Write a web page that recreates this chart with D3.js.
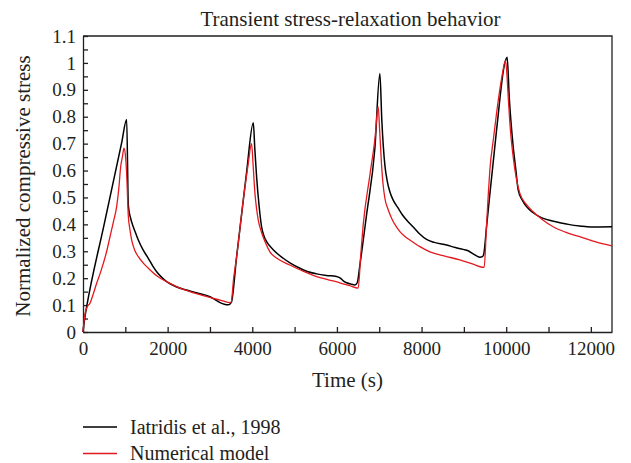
<!DOCTYPE html>
<html lang="en">
<head>
<meta charset="utf-8">
<title>Transient stress-relaxation behavior</title>
<script src="https://cdnjs.cloudflare.com/ajax/libs/d3/7.8.5/d3.min.js"></script>
<style>
  html, body {
    margin: 0;
    padding: 0;
    background: #ffffff;
  }
  svg text {
    font-family: "Liberation Serif", "DejaVu Serif", serif;
    fill: #231f20;
  }
</style>
</head>
<body>
<div id="chart"></div>
<script>
////////////////////////////////////////////////////////////////
// Data
////////////////////////////////////////////////////////////////

// Iatridis et al., 1998 (experiment, black)
const expTime = [0, 40, 87, 500, 913, 1032,
  1071, 1130, 1190, 1250, 1307, 1420, 1543, 1650, 1750, 1860, 1976, 2200, 2450, 2700, 3000,
  3120, 3240, 3340, 3430, 3480, 3510,
  3630, 3750, 3870, 4024,
  4060, 4102, 4160, 4220, 4280, 4338, 4500, 4731, 4900, 5125, 5300, 5519, 5750, 5990,
  6080, 6150, 6230, 6330, 6425, 6480,
  6543, 6700, 6897, 7015,
  7060, 7133, 7190, 7251, 7330, 7448, 7550, 7646, 7803, 7950, 8118, 8300, 8591, 8800, 8984,
  9100, 9220, 9300, 9377, 9440, 9470,
  9535, 9772, 9968, 10023,
  10071, 10165, 10230, 10283, 10380, 10480, 10620, 10795, 11000, 11267, 11500, 11739, 12000, 12500];
const expStress = [0, 0.05, 0.094, 0.40, 0.703, 0.79,
  0.47, 0.42, 0.39, 0.365, 0.342, 0.305, 0.274, 0.245, 0.222, 0.203, 0.187, 0.168, 0.156, 0.145, 0.131,
  0.12, 0.109, 0.103, 0.101, 0.105, 0.112,
  0.28, 0.44, 0.6, 0.778,
  0.68, 0.577, 0.47, 0.391, 0.355, 0.336, 0.305, 0.274, 0.256, 0.237, 0.225, 0.216, 0.21, 0.206,
  0.2, 0.19, 0.183, 0.178, 0.175, 0.183,
  0.249, 0.435, 0.683, 0.961,
  0.79, 0.62, 0.56, 0.521, 0.49, 0.46, 0.435, 0.416, 0.39, 0.365, 0.344, 0.333, 0.323, 0.314, 0.307,
  0.302, 0.29, 0.283, 0.278, 0.28, 0.29,
  0.39, 0.75, 1.0, 1.021,
  0.875, 0.689, 0.6, 0.528, 0.49, 0.466, 0.445, 0.428, 0.416, 0.406, 0.399, 0.394, 0.39, 0.391];

// Numerical model (red)
const modelTime = [0, 40, 100, 165, 240, 323, 400, 480, 560, 638, 720, 795, 850, 890, 930, 968,
  1000, 1031, 1071, 1110, 1149, 1220, 1307, 1420, 1543, 1750, 1976, 2250, 2527, 2800, 3079, 3280, 3472, 3500,
  3560, 3630, 3787, 3900, 3984,
  4020, 4063, 4100, 4141, 4220, 4299, 4417, 4600, 4889, 5200, 5519, 5800, 6071, 6300, 6503,
  6560, 6621, 6779, 6900, 6975,
  7010, 7055, 7090, 7133, 7210, 7291, 7388, 7488, 7600, 7724, 7950, 8197, 8550, 8905, 9200, 9480,
  9530, 9580, 9614, 9700, 9772, 9900, 9984,
  10020, 10047, 10100, 10165, 10240, 10323, 10470, 10638, 10850, 11110, 11400, 11739, 12100, 12500];
const modelStress = [0, 0.06, 0.094, 0.107, 0.14, 0.181, 0.215, 0.255, 0.3, 0.354, 0.41, 0.466, 0.54, 0.614, 0.65, 0.683,
  0.66, 0.59, 0.43, 0.38, 0.342, 0.305, 0.28, 0.257, 0.237, 0.208, 0.187, 0.166, 0.15, 0.137, 0.125, 0.117, 0.109, 0.11,
  0.2, 0.28, 0.49, 0.62, 0.70,
  0.62, 0.515, 0.46, 0.416, 0.37, 0.336, 0.298, 0.272, 0.249, 0.226, 0.206, 0.194, 0.183, 0.172, 0.163,
  0.28, 0.398, 0.583, 0.72, 0.837,
  0.75, 0.62, 0.55, 0.497, 0.455, 0.423, 0.395, 0.373, 0.356, 0.342, 0.318, 0.298, 0.282, 0.268, 0.253, 0.24,
  0.38, 0.52, 0.602, 0.72, 0.813, 0.95, 1.008,
  0.95, 0.875, 0.75, 0.651, 0.57, 0.515, 0.475, 0.447, 0.418, 0.391, 0.371, 0.354, 0.336, 0.32];

// ticks
const xTicks = d3.range(0, 12001, 1000);
const yTicks = d3.range(0, 23).map(function(i) { return +(i * 0.05).toFixed(2); });

const seriesNames = ["Iatridis et al., 1998", "Numerical model"];
const seriesColors = ["#000000", "#e3191f"];

////////////////////////////////////////////////////////////////
// Chart
////////////////////////////////////////////////////////////////

const W = 631, H = 463;
const FONT = '"Liberation Serif", "DejaVu Serif", serif';
const margin = {top: 36, right: 19, bottom: 131, left: 83},
  width = W - margin.left - margin.right,
  height = H - margin.top - margin.bottom;

const svg = d3.select("#chart").append("svg")
  .attr("width", W)
  .attr("height", H);

const g = svg.append("g")
  .attr("transform", "translate(" + margin.left + "," + margin.top + ")");

const x = d3.scaleLinear().domain([0, 12500]).range([0, width]);
const y = d3.scaleLinear().domain([0, 1.1]).range([height, 0]);

// frame (top + right)
g.append("path")
  .attr("d", "M0,0H" + width + "V" + height)
  .attr("fill", "none")
  .attr("stroke", "#231f20")
  .attr("stroke-width", 1.3);

// x axis, ticks pointing inward
const xAxis = g.append("g")
  .attr("transform", "translate(0," + height + ")")
  .call(d3.axisBottom(x)
    .tickValues(xTicks)
    .tickSizeInner(-5)
    .tickSizeOuter(0)
    .tickPadding(10)
    .tickFormat(function(d) { return d % 2000 === 0 ? d : ""; }));

// y axis
const yAxis = g.append("g")
  .call(d3.axisLeft(y)
    .tickValues(yTicks)
    .tickSizeInner(-5)
    .tickSizeOuter(0)
    .tickPadding(7)
    .tickFormat(function(d, i) { return i % 2 === 0 ? String(+d.toFixed(1)) : ""; }));

[xAxis, yAxis].forEach(function(a) {
  a.attr("font-family", FONT).attr("font-size", 19);
  a.selectAll("text").style("font-family", FONT).style("font-size", "19px").attr("fill", "#231f20");
  a.selectAll("line, path").attr("stroke", "#231f20").attr("stroke-width", 1.3);
});

// lines
const line = d3.line()
  .x(function(d) { return x(d[0]); })
  .y(function(d) { return y(d[1]); })
  .curve(d3.curveMonotoneX);

const series = [
  d3.zip(expTime, expStress),
  d3.zip(modelTime, modelStress)
];

g.selectAll(".curve")
  .data(series)
  .enter()
  .append("path")
  .attr("class", "curve")
  .attr("fill", "none")
  .attr("stroke", function(d, i) { return seriesColors[i]; })
  .attr("stroke-width", function(d, i) { return i === 0 ? 1.5 : 1.3; })
  .attr("stroke-linejoin", "round")
  .attr("d", line);

// title
svg.append("text")
  .attr("x", margin.left + width / 2 + 3)
  .attr("y", 26)
  .attr("text-anchor", "middle")
  .style("font-family", FONT)
  .style("font-size", "21px")
  .text("Transient stress-relaxation behavior");

// axis labels
svg.append("text")
  .attr("x", margin.left + width / 2)
  .attr("y", 387)
  .attr("text-anchor", "middle")
  .style("font-family", FONT)
  .style("font-size", "21px")
  .text("Time (s)");

svg.append("text")
  .attr("transform", "translate(30," + (margin.top + height / 2 + 2) + ") rotate(-90)")
  .attr("text-anchor", "middle")
  .style("font-family", FONT)
  .style("font-size", "21px")
  .text("Normalized compressive stress");

// legend
const legend = svg.selectAll(".legend")
  .data(seriesNames)
  .enter()
  .append("g")
  .attr("class", "legend")
  .attr("transform", function(d, i) { return "translate(83," + (427 + i * 26.5) + ")"; });

legend.append("line")
  .attr("x1", 0).attr("x2", 34)
  .attr("stroke", function(d, i) { return seriesColors[i]; })
  .attr("stroke-width", 1.3);

legend.append("text")
  .attr("x", 47)
  .attr("y", 6.5)
  .style("font-family", FONT)
  .style("font-size", "20px")
  .text(function(d) { return d; });
</script>
</body>
</html>
